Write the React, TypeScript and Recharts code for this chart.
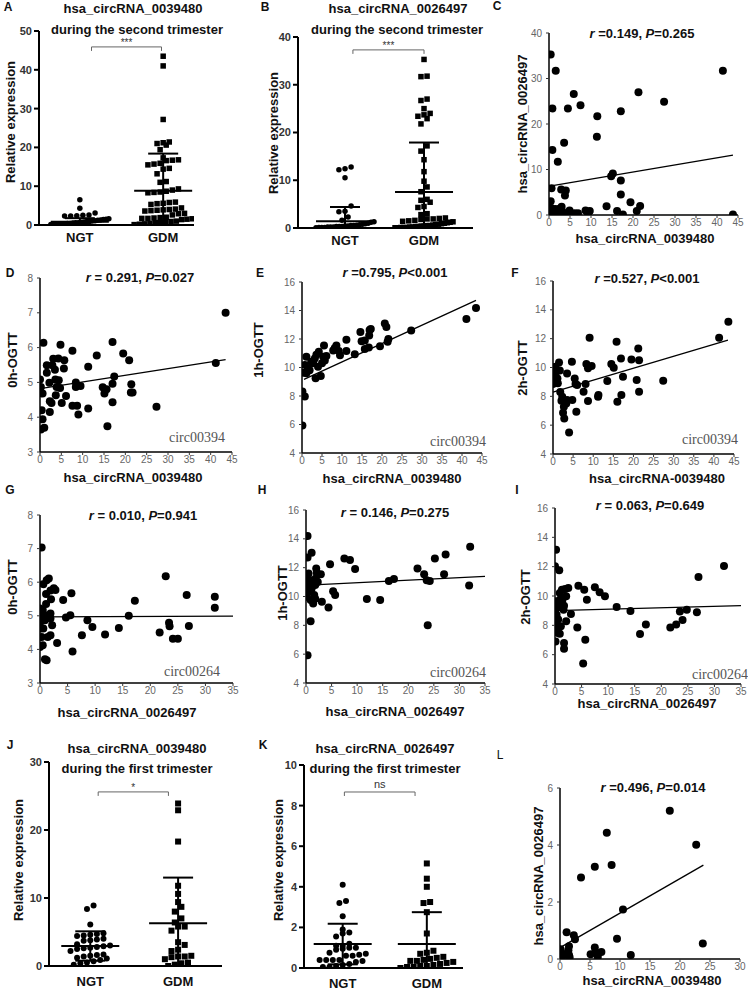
import { ScatterChart, Scatter, XAxis, YAxis, ReferenceLine } from 'recharts';

const SANS = '"Liberation Sans", Arial, Helvetica, sans-serif';
const SERIF = '"Liberation Serif", "Times New Roman", serif';

const groups = ['NGT', 'GDM'];

// A: hsa_circRNA_0039480, second trimester
const ngtA = [6.5, 4.3, 3.1, 2.6, 2.5, 2.4, 2.3, 2.3, 1.6, 1.5, 1.4, 1.3, 1.2, 1.1, 1.0, 0.9, 0.9, 0.8, 0.7, 0.6, 0.6, 0.5, 0.4, 0.4, 0.3, 0.3, 0.2, 0.2, 0.1, 0.1];
const gdmA = [43.5, 41.0, 27.2, 21.4, 21.2, 21.0, 20.6, 19.4, 17.3, 16.8, 16.7, 16.6, 15.9, 15.7, 15.5, 14.6, 14.4, 13.2, 11.2, 11.0, 9.3, 9.0, 8.7, 8.5, 8.4, 8.3, 5.9, 5.8, 5.6, 5.5, 5.3, 4.4, 4.1, 4.0, 3.9, 3.8, 3.7, 3.6, 3.0, 2.9, 2.6, 2.0, 1.9, 1.8, 1.7, 1.7, 1.6, 1.5, 1.4, 1.0, 0.9, 0.8, 0.7, 0.6, 0.4, 0.3, 0.2, 0.1];
const meanA = [0.86, 8.8];
const sdA = [0.9, 9.6];

// B: hsa_circRNA_0026497, second trimester
const ngtB = [12.8, 12.4, 12.2, 10.5, 4.6, 3.5, 3.4, 2.3, 1.6, 1.3, 1.2, 1.0, 0.9, 0.8, 0.7, 0.6, 0.5, 0.5, 0.4, 0.4, 0.3, 0.3, 0.3, 0.2, 0.2, 0.2, 0.1, 0.1, 0.1, 0.05];
const gdmB = [35.3, 31.8, 31.7, 27.0, 26.7, 25.0, 24.0, 23.7, 23.4, 22.9, 21.8, 17.2, 16.1, 14.3, 11.8, 9.8, 8.6, 7.6, 6.0, 5.8, 5.4, 4.5, 4.3, 3.0, 2.8, 2.1, 2.0, 1.9, 1.9, 1.8, 1.6, 1.5, 1.4, 1.3, 1.2, 1.1, 1.0, 0.9, 0.8, 0.7, 0.6, 0.5, 0.5, 0.4, 0.4, 0.3, 0.3, 0.2, 0.2, 0.1, 0.1, 0.1, 0.05, 0.05];
const meanB = [1.4, 7.55];
const sdB = [3.0, 10.35];

// J: hsa_circRNA_0039480, first trimester
const ngtJ = [8.9, 8.4, 6.1, 4.8, 4.7, 4.6, 4.5, 4.4, 4.0, 3.9, 3.8, 3.7, 3.2, 3.0, 2.9, 2.8, 2.7, 2.6, 2.5, 2.2, 1.7, 1.6, 1.5, 1.4, 1.2, 1.1, 0.9, 0.7, 0.5, 0.4, 0.2];
const gdmJ = [23.9, 22.9, 18.3, 11.8, 10.6, 9.4, 8.7, 8.0, 7.0, 6.4, 5.8, 5.8, 5.2, 3.5, 3.1, 2.4, 2.2, 1.5, 1.4, 1.4, 1.3, 1.0, 0.5, 0.4, 0.2, 0.0];
const meanJ = [2.94, 6.27];
const sdJ = [2.16, 6.73];

// K: hsa_circRNA_0026497, first trimester
const ngtK = [4.1, 3.3, 3.2, 2.55, 1.9, 1.75, 1.7, 1.55, 1.2, 1.1, 1.1, 1.0, 1.0, 0.95, 0.9, 0.75, 0.7, 0.65, 0.6, 0.6, 0.4, 0.4, 0.4, 0.4, 0.35, 0.3, 0.2, 0.15, 0.1, 0.05, 0.05];
const gdmK = [5.15, 4.4, 4.0, 3.25, 3.2, 2.75, 1.7, 0.85, 0.75, 0.7, 0.55, 0.5, 0.45, 0.4, 0.35, 0.35, 0.3, 0.25, 0.2, 0.15, 0.1, 0.1, 0.05, 0.05, 0.0];
const meanK = [1.18, 1.18];
const sdK = [1.0, 1.57];

// correlation panels: [x, y]
const pairsC: [number, number][] = [[0.4, 35.3], [1.6, 31.7], [0.8, 23.4], [0.8, 14.3], [2.1, 11.7], [0.6, 5.9], [0.4, 3.0], [2.9, 5.6], [4.0, 5.4], [3.8, 4.3], [3.6, 15.9], [4.5, 23.4], [5.9, 26.6], [7.5, 24.1], [11.5, 21.7], [11.4, 17.2], [17.1, 22.8], [21.3, 27.0], [27.4, 24.9], [41.4, 31.7], [15.2, 9.1], [14.8, 8.5], [17.1, 7.6], [17.1, 4.5], [19.4, 2.8], [21.7, 2.0], [20.9, 0.9], [13.7, 1.9], [16.2, 0.9], [17.6, 0.1], [43.8, 0.1], [9.7, 0.9], [8.7, 1.0], [6.9, 0.4], [4.9, 1.0], [4.3, 0.4], [3.2, 0.7], [2.5, 1.4], [1.5, 1.3], [1.0, 0.7], [0.3, 0.4], [1.7, 0.4], [6.1, 0.4], [2.5, 0.2], [0.6, 1.5], [9.3, 0.3], [0.2, 0.1], [3.0, 1.8], [5.4, 0.3]];
const pairsD: [number, number][] = [[0.8, 6.14], [0, 5.08], [0.2, 4.87], [0.6, 4.68], [0.4, 4.2], [0.6, 3.94], [0.2, 3.65], [1.0, 3.7], [1.6, 5.49], [1.6, 5.28], [2.2, 4.99], [2.3, 4.46], [2.7, 4.41], [2.3, 4.15], [2.9, 5.49], [3.1, 5.68], [3.5, 5.36], [3.6, 5.08], [3.9, 4.87], [3.7, 4.63], [4.3, 5.69], [4.4, 5.06], [4.7, 4.84], [4.8, 6.08], [5.1, 4.41], [5.6, 5.4], [5.7, 5.64], [6.1, 4.61], [7.6, 5.91], [7.6, 4.33], [8.4, 5.0], [8.7, 4.33], [9.0, 4.08], [9.5, 4.9], [8.4, 4.87], [11.3, 5.45], [11.3, 4.25], [13.3, 5.77], [14.7, 4.86], [15.1, 4.68], [15.6, 4.8], [15.8, 3.74], [17.0, 6.16], [17.0, 4.96], [17.0, 4.43], [17.4, 5.17], [19.5, 5.83], [20.9, 5.64], [21.3, 4.71], [21.4, 4.95], [21.7, 4.71], [27.3, 4.3], [41.2, 5.56], [43.5, 7.0]];
const pairsE: [number, number][] = [[0.1, 5.93], [0.1, 8.31], [0.7, 7.96], [0.3, 9.64], [0.7, 10.18], [1.1, 10.76], [1.5, 9.94], [1.1, 9.6], [1.9, 9.8], [2.3, 10.41], [2.8, 10.3], [3.2, 10.64], [3.6, 10.9], [3.4, 9.24], [4.0, 10.06], [4.2, 11.1], [4.7, 9.4], [5.0, 10.3], [5.3, 10.76], [5.7, 10.5], [5.5, 11.55], [6.1, 10.8], [7.8, 11.2], [8.2, 11.37], [8.6, 11.55], [9.2, 11.15], [9.5, 10.86], [11.1, 11.15], [11.1, 11.94], [13.2, 10.93], [14.6, 12.5], [14.9, 11.84], [15.7, 11.3], [15.7, 11.9], [16.7, 11.4], [16.9, 12.64], [16.8, 12.24], [17.2, 12.7], [19.5, 11.5], [20.7, 13.08], [21.1, 12.85], [21.4, 11.8], [21.6, 12.0], [27.3, 12.6], [41.1, 13.4], [43.5, 14.18]];
const pairsF: [number, number][] = [[0, 8.85], [0.4, 9.36], [0.6, 10.05], [0.8, 9.7], [1.1, 9.24], [1.2, 8.9], [1.5, 10.35], [1.7, 9.8], [1.8, 8.3], [2.1, 7.7], [2.3, 7.97], [2.5, 6.86], [2.7, 7.28], [2.8, 6.47], [3.3, 7.5], [3.5, 7.74], [3.5, 9.58], [4.0, 5.5], [4.7, 10.4], [4.8, 7.74], [5.4, 9.24], [5.6, 8.85], [5.8, 6.93], [6.0, 8.78], [7.6, 8.32], [8.1, 8.85], [8.3, 10.24], [8.7, 7.67], [8.7, 9.94], [9.1, 12.06], [9.6, 10.1], [11.2, 7.97], [11.3, 8.1], [13.5, 9.06], [14.5, 10.24], [15.1, 9.98], [15.8, 11.78], [16.0, 7.63], [16.9, 10.63], [17.0, 8.1], [17.4, 9.36], [19.5, 10.56], [20.8, 9.13], [21.2, 11.32], [21.4, 10.5], [21.4, 8.32], [27.4, 9.08], [41.3, 12.06], [43.6, 13.17]];
const pairsG: [number, number][] = [[0.3, 7.03], [0.0, 5.22], [0.0, 5.02], [0.0, 4.79], [0.1, 4.62], [0.3, 4.37], [0.0, 4.07], [0.5, 4.12], [0.6, 5.94], [0.5, 5.17], [0.9, 5.02], [0.9, 4.87], [0.6, 4.62], [0.9, 3.71], [1.2, 3.68], [1.1, 5.35], [1.1, 5.65], [1.2, 6.06], [1.6, 6.11], [1.4, 4.37], [1.9, 5.07], [1.9, 4.92], [1.9, 4.42], [2.0, 5.49], [1.9, 5.75], [2.2, 4.72], [2.5, 5.82], [2.8, 5.77], [3.1, 4.19], [4.2, 5.47], [4.7, 4.95], [5.5, 5.02], [5.7, 5.67], [5.9, 3.94], [7.6, 4.42], [8.6, 4.87], [9.5, 4.67], [11.8, 4.44], [14.3, 4.64], [16.1, 5.0], [17.2, 5.45], [21.7, 4.5], [22.8, 6.18], [23.4, 4.79], [23.5, 4.69], [24.1, 4.32], [25.0, 4.32], [26.6, 5.62], [27.0, 4.7], [31.7, 5.57], [31.7, 5.24]];
const pairsH: [number, number][] = [[0.3, 14.19], [0.3, 12.71], [1.1, 13.03], [0, 10.44], [0.3, 11.13], [0.5, 11.6], [0.5, 10.79], [0.1, 9.98], [0.8, 10.33], [0.9, 9.75], [1.1, 11.13], [1.1, 10.56], [1.4, 9.52], [1.6, 10.1], [1.8, 10.79], [1.9, 11.25], [2.0, 11.95], [2.1, 11.65], [1.8, 9.84], [2.3, 11.0], [2.9, 11.55], [3.1, 9.63], [0.9, 8.29], [0.3, 5.92], [4.4, 9.24], [4.7, 12.23], [5.3, 10.37], [5.7, 10.1], [7.5, 12.64], [8.6, 12.53], [9.6, 11.9], [11.9, 9.82], [14.5, 9.75], [16.2, 11.07], [17.2, 11.21], [21.8, 11.95], [23.1, 11.55], [23.6, 11.13], [24.2, 11.07], [25.2, 12.64], [23.8, 8.0], [27.0, 11.55], [27.3, 12.91], [32.1, 13.45], [31.9, 10.76]];
const pairsI: [number, number][] = [[0.2, 13.16], [0, 12.02], [0.8, 11.75], [0, 9.64], [0, 8.95], [0.2, 8.05], [0, 7.7], [0.1, 6.9], [0.3, 8.73], [0.6, 9.3], [0.6, 8.39], [0.9, 10.2], [0.9, 9.75], [1.3, 10.43], [1.4, 9.75], [1.6, 9.07], [0.6, 7.82], [1.1, 7.93], [0.6, 7.48], [0.9, 7.43], [1.9, 10.48], [2.1, 9.98], [1.7, 9.34], [2.1, 8.27], [1.7, 6.8], [1.7, 6.41], [2.5, 10.55], [3.0, 8.77], [4.2, 7.86], [4.4, 10.7], [5.5, 10.43], [6.0, 9.75], [5.7, 7.02], [5.3, 5.39], [7.5, 10.6], [8.4, 10.25], [9.4, 9.98], [11.6, 9.25], [14.2, 8.98], [16.0, 7.41], [17.1, 8.05], [21.7, 7.86], [22.8, 8.05], [23.5, 8.95], [24.0, 8.36], [24.8, 9.07], [26.7, 8.89], [27.0, 11.3], [31.8, 12.05]];
const pairsL: [number, number][] = [[0.1, 0.34], [0.3, 0.2], [0.3, 0.06], [0.6, 0.14], [1.1, 0.94], [1.4, 0.31], [1.5, 0.45], [1.5, 0.14], [1.6, 0.06], [2.3, 0.83], [2.5, 0.69], [3.5, 2.86], [5.1, 0.17], [5.8, 0.4], [5.8, 3.24], [5.9, 0.25], [6.3, 0.08], [6.9, 0.25], [7.8, 4.43], [8.6, 3.3], [9.5, 0.71], [10.5, 1.74], [11.8, 0.14], [18.3, 5.2], [22.7, 4.01], [23.8, 0.54]];

// fitted lines: intercept, slope, x range
const fitC = { a: 6.3, b: 0.157, x0: 0.5, x1: 43.8 };
const fitD = { a: 4.82, b: 0.0192, x0: 0, x1: 43.5 };
const fitE = { a: 9.1, b: 0.129, x0: 0.5, x1: 43.5 };
const fitF = { a: 8.3, b: 0.0828, x0: 0, x1: 43.5 };
const fitG = { a: 4.97, b: 0.0005, x0: 0, x1: 35 };
const fitH = { a: 10.78, b: 0.0177, x0: 0.5, x1: 35 };
const fitI = { a: 9.0, b: 0.0097, x0: 0, x1: 35 };
const fitL = { a: 0.4, b: 0.121, x0: 0.3, x1: 23.9 };

const ticks45 = [0, 5, 10, 15, 20, 25, 30, 35, 40, 45];
const ticks35 = [0, 5, 10, 15, 20, 25, 30, 35];

function swarm(values: number[], center: number, xPx: number, yPx: number, size: number, maxW: number) {
  const v = [...values].sort((p, q) => p - q);
  const out: { x: number; y: number }[] = [];
  let i = 0;
  while (i < v.length) {
    let j = i + 1;
    while (j < v.length && (v[j] - v[i]) * yPx < size) j++;
    const n = j - i;
    const step = n > 1 ? Math.min(size, maxW / (n - 1)) : 0;
    for (let k = 0; k < n; k++) {
      out.push({ x: center + ((k - (n - 1) / 2) * step) / xPx, y: v[i + k] });
    }
    i = j;
  }
  return out;
}

function Txt({ x, y, children, size = 13, bold = true, rotate = false, color = '#111', family = SANS }: any) {
  return (
    <div
      style={{
        position: 'absolute',
        left: x,
        top: y,
        transform: `translate(-50%, -50%)${rotate ? ' rotate(-90deg)' : ''}`,
        whiteSpace: 'nowrap',
        fontSize: size,
        fontWeight: bold ? 700 : 400,
        color,
        fontFamily: family,
        lineHeight: 1,
      }}
    >
      {children}
    </div>
  );
}

function DotPanel({ rect, xDomain, yDomain, yTicks, ngt, gdm, mean, sd, br, sig, mk, labelGap }: any) {
  const padL = 40, padT = 10, padR = 8, padB = 30;
  const w = rect.r - rect.l + padL + padR;
  const h = rect.b - rect.t + padT + padB;
  const xPx = (rect.r - rect.l) / (xDomain[1] - xDomain[0]);
  const yPx = (rect.b - rect.t) / (yDomain[1] - yDomain[0]);
  const ngtPts = swarm(ngt, 1, xPx, yPx, mk + 0.6, 58);
  const gdmPts = swarm(gdm, 2, xPx, yPx, mk + 0.6, 58);
  const halfMean = 29 / xPx, halfCap = 15 / xPx, tk = 4 / yPx;
  const segs: number[][][] = [];
  [0, 1].forEach((g) => {
    const c = g + 1;
    const top = mean[g] + sd[g];
    const low = Math.max(yDomain[0], mean[g] - sd[g]);
    segs.push([[c - halfMean, mean[g]], [c + halfMean, mean[g]]]);
    segs.push([[c, low], [c, top]]);
    segs.push([[c - halfCap, top], [c + halfCap, top]]);
    if (mean[g] - sd[g] > yDomain[0]) segs.push([[c - halfCap, low], [c + halfCap, low]]);
  });
  const brSegs = [
    [[br.x0, br.y], [br.x1, br.y]],
    [[br.x0, br.y], [br.x0, br.y - tk]],
    [[br.x1, br.y], [br.x1, br.y - tk]],
  ];
  const isNs = sig === 'ns';
  const sx = rect.l + (((br.x0 + br.x1) / 2) - xDomain[0]) * xPx;
  const sy = rect.b - (br.y - yDomain[0]) * yPx - (isNs ? 8 : 4);
  return (
    <>
      <div style={{ position: 'absolute', left: rect.l - padL, top: rect.t - padT }}>
        <ScatterChart width={w} height={h} margin={{ top: padT, right: padR, bottom: 0, left: 0 }}>
          <XAxis
            type="number"
            dataKey="x"
            domain={xDomain}
            allowDataOverflow
            ticks={[1, 2]}
            tickFormatter={(v: number) => groups[v - 1]}
            height={padB}
            tickLine={false}
            tickMargin={labelGap}
            axisLine={{ stroke: '#000', strokeWidth: 2 }}
            tick={{ fontSize: 13, fontWeight: 700, fill: '#111', fontFamily: SANS }}
          />
          <YAxis
            type="number"
            dataKey="y"
            domain={yDomain}
            allowDataOverflow
            ticks={yTicks}
            width={padL}
            tickSize={5}
            tickMargin={2}
            axisLine={{ stroke: '#000', strokeWidth: 2 }}
            tickLine={{ stroke: '#000', strokeWidth: 2 }}
            tick={{ fontSize: 11, fontWeight: 700, fill: '#333', fontFamily: SANS }}
          />
          <Scatter
            data={ngtPts}
            isAnimationActive={false}
            shape={(p: any) => <circle cx={p.cx} cy={p.cy} r={mk / 2} fill="#000" />}
          />
          <Scatter
            data={gdmPts}
            isAnimationActive={false}
            shape={(p: any) => <rect x={p.cx - mk / 2} y={p.cy - mk / 2} width={mk} height={mk} fill="#000" />}
          />
          {segs.map((s, i) => (
            <ReferenceLine
              key={'e' + i}
              segment={[{ x: s[0][0], y: s[0][1] }, { x: s[1][0], y: s[1][1] }]}
              stroke="#000"
              strokeWidth={2}
              ifOverflow="visible"
            />
          ))}
          {brSegs.map((s, i) => (
            <ReferenceLine
              key={'b' + i}
              segment={[{ x: s[0][0], y: s[0][1] }, { x: s[1][0], y: s[1][1] }]}
              stroke="#666"
              strokeWidth={1}
              ifOverflow="visible"
            />
          ))}
        </ScatterChart>
      </div>
      <Txt x={sx} y={sy} size={isNs ? 11 : 10} bold={false} color="#333">
        {sig}
      </Txt>
    </>
  );
}

function CorrPanel({ rect, xDomain, xTicks, yDomain, yTicks, pairs, fit }: any) {
  const padL = 40, padT = 10, padR = 12, padB = 22;
  const w = rect.r - rect.l + padL + padR;
  const h = rect.b - rect.t + padT + padB;
  const pts = pairs.map((p: number[]) => ({ x: p[0], y: p[1] }));
  return (
    <div style={{ position: 'absolute', left: rect.l - padL, top: rect.t - padT }}>
      <ScatterChart width={w} height={h} margin={{ top: padT, right: padR, bottom: 0, left: 0 }}>
        <XAxis
          type="number"
          dataKey="x"
          domain={xDomain}
          allowDataOverflow
          ticks={xTicks}
          interval={0}
          height={padB}
          tickSize={3}
          tickMargin={1}
          axisLine={{ stroke: '#000', strokeWidth: 1.5 }}
          tickLine={{ stroke: '#333', strokeWidth: 1 }}
          tick={{ fontSize: 10, fill: '#666', fontFamily: SANS }}
        />
        <YAxis
          type="number"
          dataKey="y"
          domain={yDomain}
          allowDataOverflow
          ticks={yTicks}
          interval={0}
          width={padL}
          tickSize={3}
          tickMargin={4}
          axisLine={{ stroke: '#000', strokeWidth: 1.5 }}
          tickLine={{ stroke: '#333', strokeWidth: 1 }}
          tick={{ fontSize: 10, fill: '#666', fontFamily: SANS }}
        />
        <Scatter
          data={pts}
          isAnimationActive={false}
          shape={(p: any) => <circle cx={p.cx} cy={p.cy} r={4} fill="#000" />}
        />
        <ReferenceLine
          segment={[
            { x: fit.x0, y: fit.a + fit.b * fit.x0 },
            { x: fit.x1, y: fit.a + fit.b * fit.x1 },
          ]}
          stroke="#000"
          strokeWidth={1.3}
          ifOverflow="visible"
        />
      </ScatterChart>
    </div>
  );
}

function Stat({ x, y, r, p }: any) {
  return (
    <Txt x={x} y={y} size={13}>
      <i>r</i>
      {r}
      <i>P</i>
      {p}
    </Txt>
  );
}

export default function App() {
  const circ = { size: 14, bold: false, color: '#555', family: SERIF };
  return (
    <div
      style={{
        position: 'absolute',
        left: 0,
        top: 0,
        width: 748,
        height: 992,
        background: '#fff',
        overflow: 'hidden',
        fontFamily: SANS,
      }}
    >
      {/* row 1 */}
      <DotPanel rect={{ l: 39, t: 31, r: 194, b: 225 }} xDomain={[0.51, 2.37]} yDomain={[0, 50]} yTicks={[0, 10, 20, 30, 40, 50]}
        ngt={ngtA} gdm={gdmA} mean={meanA} sd={sdA} br={{ x0: 1.14, x1: 1.98, y: 45.9 }} sig="***" mk={5.5} labelGap={2} />
      <DotPanel rect={{ l: 298, t: 37, r: 473, b: 228 }} xDomain={[0.405, 2.62]} yDomain={[0, 40]} yTicks={[0, 10, 20, 30, 40]}
        ngt={ngtB} gdm={gdmB} mean={meanB} sd={sdB} br={{ x0: 1.1, x1: 2.0, y: 37.3 }} sig="***" mk={5.5} labelGap={2} />
      <CorrPanel rect={{ l: 549, t: 33, r: 738, b: 215 }} xDomain={[0, 45]} xTicks={ticks45} yDomain={[0, 40]} yTicks={[0, 10, 20, 30, 40]} pairs={pairsC} fit={fitC} />

      <Txt x={8} y={7} size={12}>A</Txt>
      <Txt x={133} y={8}>hsa_circRNA_0039480</Txt>
      <Txt x={137} y={29}>during the second trimester</Txt>
      <Txt x={10} y={122} rotate>Relative expression</Txt>

      <Txt x={265} y={7} size={12}>B</Txt>
      <Txt x={398} y={8}>hsa_circRNA_0026497</Txt>
      <Txt x={397} y={29}>during the second trimester</Txt>
      <Txt x={273} y={133} rotate>Relative expression</Txt>

      <Txt x={497} y={6} size={12}>C</Txt>
      <Stat x={642} y={33} r=" =0.149, " p="=0.265" />
      <Txt x={522} y={124} rotate>hsa_circRNA_0026497</Txt>
      <Txt x={645} y={238}>hsa_circRNA_0039480</Txt>

      {/* row 2 */}
      <CorrPanel rect={{ l: 40, t: 278, r: 232, b: 452 }} xDomain={[0, 45]} xTicks={ticks45} yDomain={[3, 8]} yTicks={[3, 4, 5, 6, 7, 8]} pairs={pairsD} fit={fitD} />
      <CorrPanel rect={{ l: 302, t: 282, r: 482, b: 453 }} xDomain={[0, 45]} xTicks={ticks45} yDomain={[4, 16]} yTicks={[4, 6, 8, 10, 12, 14, 16]} pairs={pairsE} fit={fitE} />
      <CorrPanel rect={{ l: 553, t: 281, r: 734, b: 454 }} xDomain={[0, 45]} xTicks={ticks45} yDomain={[4, 16]} yTicks={[4, 6, 8, 10, 12, 14, 16]} pairs={pairsF} fit={fitF} />

      <Txt x={10} y={273} size={12}>D</Txt>
      <Stat x={140} y={277} r=" = 0.291, " p="=0.027" />
      <Txt x={12} y={360} rotate>0h-OGTT</Txt>
      <Txt x={133} y={477}>hsa_circRNA_0039480</Txt>
      <Txt x={197} y={438} {...circ}>circ00394</Txt>

      <Txt x={260} y={273} size={12}>E</Txt>
      <Stat x={395} y={272} r=" =0.795, " p="<0.001" />
      <Txt x={258} y={350} rotate>1h-OGTT</Txt>
      <Txt x={392} y={478}>hsa_circRNA_0039480</Txt>
      <Txt x={458} y={442} {...circ}>circ00394</Txt>

      <Txt x={515} y={273} size={12}>F</Txt>
      <Stat x={647} y={278} r=" =0.527, " p="<0.001" />
      <Txt x={522} y={368} rotate>2h-OGTT</Txt>
      <Txt x={657} y={478}>hsa_circRNA-0039480</Txt>
      <Txt x={710} y={440} {...circ}>circ00394</Txt>

      {/* row 3 */}
      <CorrPanel rect={{ l: 40, t: 515, r: 233, b: 683 }} xDomain={[0, 35]} xTicks={ticks35} yDomain={[3, 8]} yTicks={[3, 4, 5, 6, 7, 8]} pairs={pairsG} fit={fitG} />
      <CorrPanel rect={{ l: 306, t: 510, r: 485, b: 683 }} xDomain={[0, 35]} xTicks={ticks35} yDomain={[4, 16]} yTicks={[4, 6, 8, 10, 12, 14, 16]} pairs={pairsH} fit={fitH} />
      <CorrPanel rect={{ l: 555, t: 508, r: 741, b: 684 }} xDomain={[0, 35]} xTicks={ticks35} yDomain={[4, 16]} yTicks={[4, 6, 8, 10, 12, 14, 16]} pairs={pairsI} fit={fitI} />

      <Txt x={10} y={490} size={12}>G</Txt>
      <Stat x={143} y={515} r=" = 0.010, " p="=0.941" />
      <Txt x={12} y={587} rotate>0h-OGTT</Txt>
      <Txt x={127} y={712}>hsa_circRNA_0026497</Txt>
      <Txt x={192} y={672} {...circ}>circ00264</Txt>

      <Txt x={262} y={490} size={12}>H</Txt>
      <Stat x={395} y={512} r=" = 0.146, " p="=0.275" />
      <Txt x={282} y={593} rotate>1h-OGTT</Txt>
      <Txt x={395} y={711}>hsa_circRNA_0026497</Txt>
      <Txt x={458} y={673} {...circ}>circ00264</Txt>

      <Txt x={517} y={490} size={12}>I</Txt>
      <Stat x={650} y={505} r=" = 0.063, " p="=0.649" />
      <Txt x={525} y={597} rotate>2h-OGTT</Txt>
      <Txt x={647} y={703}>hsa_circRNA_0026497</Txt>
      <Txt x={720} y={675} {...circ}>circ00264</Txt>

      {/* row 4 */}
      <DotPanel rect={{ l: 49, t: 762, r: 222, b: 966 }} xDomain={[0.53, 2.5]} yDomain={[0, 30]} yTicks={[0, 10, 20, 30]}
        ngt={ngtJ} gdm={gdmJ} mean={meanJ} sd={sdJ} br={{ x0: 1.09, x1: 1.89, y: 25.6 }} sig="*" mk={6} labelGap={5} />
      <DotPanel rect={{ l: 304, t: 765, r: 463, b: 968 }} xDomain={[0.54, 2.43]} yDomain={[0, 10]} yTicks={[0, 2, 4, 6, 8, 10]}
        ngt={ngtK} gdm={gdmK} mean={meanK} sd={sdK} br={{ x0: 1.02, x1: 1.86, y: 8.67 }} sig="ns" mk={6} labelGap={5} />
      <CorrPanel rect={{ l: 560, t: 788, r: 740, b: 959 }} xDomain={[0, 30]} xTicks={[0, 5, 10, 15, 20, 25, 30]} yDomain={[0, 6]} yTicks={[0, 2, 4, 6]} pairs={pairsL} fit={fitL} />

      <Txt x={10} y={745} size={12}>J</Txt>
      <Txt x={137} y={748}>hsa_circRNA_0039480</Txt>
      <Txt x={137} y={768}>during the first trimester</Txt>
      <Txt x={18} y={860} rotate>Relative expression</Txt>

      <Txt x={263} y={745} size={12}>K</Txt>
      <Txt x={385} y={748}>hsa_circRNA_0026497</Txt>
      <Txt x={385} y={768}>during the first trimester</Txt>
      <Txt x={278} y={860} rotate>Relative expression</Txt>

      <Txt x={500} y={755} size={12} bold={false}>L</Txt>
      <Stat x={653} y={787} r=" =0.496, " p="=0.014" />
      <Txt x={538} y={876} rotate>hsa_circRNA_0026497</Txt>
      <Txt x={652} y={980}>hsa_circRNA_0039480</Txt>
    </div>
  );
}
